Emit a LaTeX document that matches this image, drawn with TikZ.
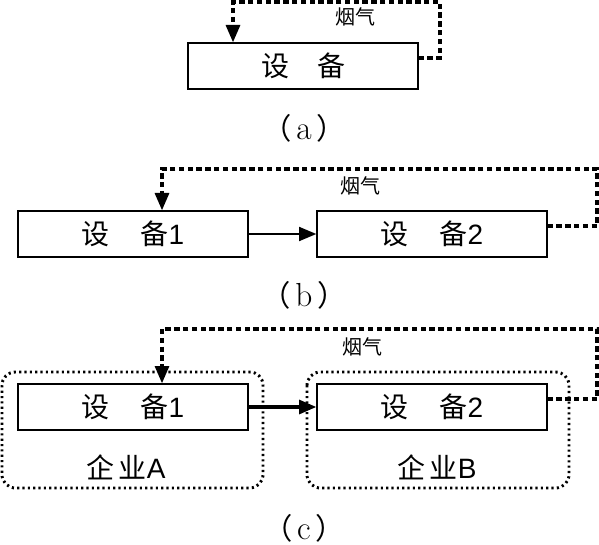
\documentclass[tikz,border=0pt]{standalone}
\usepackage{fontspec}
\newfontfamily\cjk{Noto Sans CJK SC}
\newfontfamily\arl{Liberation Sans}
\usetikzlibrary{arrows.meta}
\newcommand\capl[1]{{\cjk （}\,{\fontsize{25}{28}\selectfont #1}\,{\cjk ）}}
\begin{document}
\begin{tikzpicture}[x=0.75pt,y=-0.75pt,
  dev/.style={draw,line width=1pt,minimum width=172.5pt,minimum height=34.5pt,inner sep=0pt,font=\fontsize{21}{24}\selectfont},
  firm/.style={draw,line width=2.2pt,dash pattern=on 1.6pt off 2.4pt,rounded corners=10pt},
  smoke/.style={line width=2.3pt,dash pattern=on 4pt off 2.6pt},
  arrtip/.style={-{Triangle[length=13pt,width=10.5pt]}},
  flow/.style={arrtip,line width=1.5pt},
  lbl/.style={font=\cjk\fontsize{15}{18}\selectfont,inner sep=0pt},
  captxt/.style={font=\fontsize{22}{25}\selectfont,inner sep=0pt}]
\useasboundingbox (0,0) rectangle (599,545);
% (a)
\node[dev] (a1) at (303,66) {\cjk 设\hspace{1em}备};
\coordinate (a1tr) at (440,58);
\coordinate (a1tl) at (233,2);
\draw[smoke,arrtip] ([yshift=6pt]a1.east) -- (a1tr) |- (a1tl) -- (a1tl |- a1.north);
\node[lbl] (s1) at (355,17) {烟气};
\node[captxt] (ca) at (304,128) {\capl{a}};
% (b)
\node[dev] (b1) at (133,234) {{\cjk 设\hspace{1.1em}备}\arl 1};
\node[dev] (b2) at (432,234) {{\cjk 设\hspace{1.1em}备}\arl 2};
\draw[flow] (b1) -- (b2);
\coordinate (b2r) at (597,226);
\coordinate (btl) at (162,169);
\draw[smoke,arrtip] ([yshift=6pt]b2.east) -- (b2r) |- (btl) -- (btl |- b1.north);
\node[lbl] (s2) at (360,186) {烟气};
\node[captxt] (cb) at (304,295) {\capl{b}};
% (c)
\draw[firm] (2,372) rectangle (263,488);
\draw[firm] (307,372) rectangle (569,488);
\node[dev] (c1) at (133,407) {{\cjk 设\hspace{1.1em}备}\arl 1};
\node[dev] (c2) at (432,407) {{\cjk 设\hspace{1.1em}备}\arl 2};
\node[font=\fontsize{21}{24}\selectfont] (fa) at (126,467) {{\cjk 企\hspace{0.15em}业}\arl A};
\node[font=\fontsize{21}{24}\selectfont] (fb) at (437,467) {{\cjk 企\hspace{0.15em}业}\arl B};
\draw[flow,line width=2.4pt] (c1) -- (c2);
\coordinate (c2r) at (597,399);
\coordinate (ctl) at (162,329);
\draw[smoke,arrtip] ([yshift=6pt]c2.east) -- (c2r) |- (ctl) -- (ctl |- c1.north);
\node[lbl] (s3) at (362,347) {烟气};
\node[captxt] (cc) at (304,528) {\capl{c}};
\end{tikzpicture}
\end{document}
